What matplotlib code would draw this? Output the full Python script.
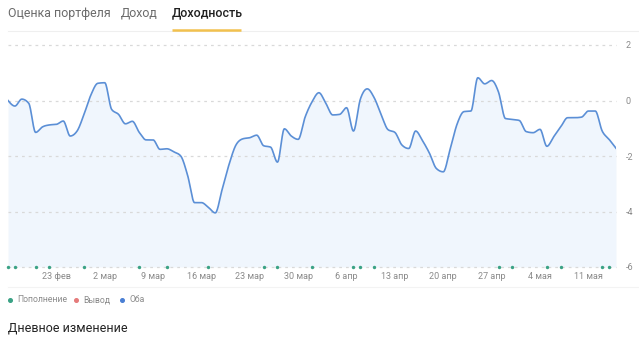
import numpy as np
import pandas as pd
import matplotlib
matplotlib.use("Agg")
import matplotlib.pyplot as plt
import matplotlib.dates as mdates

plt.rcParams['font.family'] = ['Roboto', 'DejaVu Sans']

# ---- data ----
start_date = "2021-02-16"
end_date = "2021-05-15"
returns = [0.0, -0.2, 0.05, -0.1, -1.15, -0.95, -0.88, -0.86, -0.74, -1.28,
           -1.1, -0.5, 0.2, 0.62, 0.64, -0.32, -0.5, -0.84, -0.75, -1.15,
           -1.42, -1.42, -1.76, -1.74, -1.85, -2.0, -2.7, -3.68, -3.68, -3.85,
           -4.05, -3.2, -2.3, -1.6, -1.38, -1.34, -1.25, -1.63, -1.68, -2.22,
           -1.02, -1.28, -1.4, -0.6, -0.05, 0.28, -0.1, -0.52, -0.5, -0.26,
           -1.1, 0.05, 0.42, 0.1, -0.5, -1.05, -1.15, -1.6, -1.73, -1.1,
           -1.45, -1.9, -2.45, -2.57, -1.75, -0.85, -0.4, -0.38, 0.82, 0.6,
           0.72, 0.3, -0.65, -0.68, -0.72, -1.12, -1.16, -1.04, -1.65, -1.3,
           -0.95, -0.62, -0.62, -0.6, -0.38, -0.38, -1.1, -1.4, -1.72]
deposit_dates = ["2021-02-16", "2021-02-17", "2021-02-20", "2021-02-22", "2021-02-27",
                 "2021-03-07", "2021-03-11", "2021-03-17", "2021-03-25", "2021-03-27",
                 "2021-04-01", "2021-04-07", "2021-04-08", "2021-04-10", "2021-04-28",
                 "2021-04-30", "2021-05-05", "2021-05-07", "2021-05-13", "2021-05-14"]
tick_dates = ["2021-02-23", "2021-03-02", "2021-03-09", "2021-03-16", "2021-03-23",
              "2021-03-30", "2021-04-06", "2021-04-13", "2021-04-20", "2021-04-27",
              "2021-05-04", "2021-05-11"]
tick_labels = ["23 фев", "2 мар", "9 мар", "16 мар", "23 мар", "30 мар",
               "6 апр", "13 апр", "20 апр", "27 апр", "4 мая", "11 мая"]
y_ticks = [2, 0, -2, -4, -6]
tabs = ["Оценка портфеля", "Доход", "Доходность"]
legend_items = ["Пополнение", "Вывод", "Оба"]
section_title = "Дневное изменение"

dates = pd.date_range(start_date, end_date, freq="D")
x = mdates.date2num(dates.to_pydatetime())
y = np.array(returns, dtype=float)


def monotone_curve(xs, ys, n=16):
    xs = np.asarray(xs, float); ys = np.asarray(ys, float)
    h = np.diff(xs); s = np.diff(ys) / h
    m = np.zeros_like(ys)
    for i in range(1, len(ys) - 1):
        s0, s1 = s[i - 1], s[i]
        p = (s0 * h[i] + s1 * h[i - 1]) / (h[i - 1] + h[i])
        m[i] = (np.sign(s0) + np.sign(s1)) * min(abs(s0), abs(s1), 0.5 * abs(p))
    m[0] = (3 * s[0] - m[1]) / 2
    m[-1] = (3 * s[-1] - m[-2]) / 2
    ox, oy = [], []
    for i in range(len(h)):
        t = np.linspace(0, 1, n, endpoint=False)
        h00 = 2 * t**3 - 3 * t**2 + 1; h10 = t**3 - 2 * t**2 + t
        h01 = -2 * t**3 + 3 * t**2; h11 = t**3 - t**2
        ox.append(xs[i] + t * h[i])
        oy.append(h00 * ys[i] + h10 * h[i] * m[i] + h01 * ys[i + 1] + h11 * h[i] * m[i + 1])
    ox.append([xs[-1]]); oy.append([ys[-1]])
    return np.concatenate(ox), np.concatenate(oy)


W, H = 639, 338
fig = plt.figure(figsize=(W / 100, H / 100), dpi=100)
fig.patch.set_facecolor("white")

L, R, T, B = 8, 616, 45, 267
ax = fig.add_axes([L / W, 1 - B / H, (R - L) / W, (B - T) / H])
ax.set_facecolor("none")
ax.set_xlim(x[0], x[-1])
ax.set_ylim(-6, 2)
for sp in ax.spines.values():
    sp.set_visible(False)

for v in y_ticks:
    ax.axhline(v, color="#d9d9d9", lw=0.9, ls=(0, (2.2, 3.2)), zorder=1, clip_on=False)
sx, sy = monotone_curve(x, y)
ax.fill_between(sx, sy, -6, color="#f0f6fd", lw=0, zorder=0)
ax.plot(sx, sy, color="#5b8fd6", lw=1.2, zorder=3, solid_joinstyle="round")

dep = mdates.date2num(pd.to_datetime(deposit_dates).to_pydatetime())
ax.scatter(dep, np.full(len(dep), -6.0), s=6, color="#3aa285", zorder=4, clip_on=False, lw=0)

ax.set_yticks(y_ticks)
ax.yaxis.tick_right()
ax.tick_params(axis="y", length=0, pad=7, labelsize=6.5, labelcolor="#8a8a8a")
ax.set_yticklabels([str(v) for v in y_ticks])
tx = mdates.date2num(pd.to_datetime(tick_dates).to_pydatetime())
ax.set_xticks(tx)
ax.set_xticklabels(tick_labels)
ax.tick_params(axis="x", length=0, pad=3.5, labelsize=6.5, labelcolor="#8a8a8a")

# frame lines
fig.add_artist(plt.Line2D([8 / W, 1], [1 - 30.5 / H] * 2, color="#efefef", lw=0.8))
fig.add_artist(plt.Line2D([8 / W, 1], [1 - 287 / H] * 2, color="#f3f3f3", lw=0.8))

# tabs
tab_x = [8, 121, 172]
tab_colors = ["#6b6b6b", "#6b6b6b", "#1f1f1f"]
tab_weights = ["normal", "normal", "medium"]
for t, tx_, c, wgt in zip(tabs, tab_x, tab_colors, tab_weights):
    fig.text(tx_ / W, 1 - 13 / H, t, fontsize=8.9, color=c, weight=wgt, va="center", ha="left")
fig.add_artist(plt.Line2D([172 / W, 241 / W], [1 - 29.5 / H] * 2, color="#f2c14e", lw=1.8,
                          solid_capstyle="butt"))

# legend
leg_colors = ["#3aa285", "#e57b7b", "#4a7fd4"]
leg_dot_x = [10, 76, 122]
for lab, c, dx in zip(legend_items, leg_colors, leg_dot_x):
    fig.add_artist(plt.Line2D([dx / W], [1 - 300 / H], marker="o", ms=2.6, color=c, lw=0))
    fig.text((dx + 7) / W, 1 - 300 / H, lab, fontsize=6.2, color="#8a8a8a", va="center", ha="left")

fig.text(8 / W, 1 - 328 / H, section_title, fontsize=9.0, color="#222222", va="center", ha="left")

fig.savefig("out.png", dpi=100, facecolor="white")
